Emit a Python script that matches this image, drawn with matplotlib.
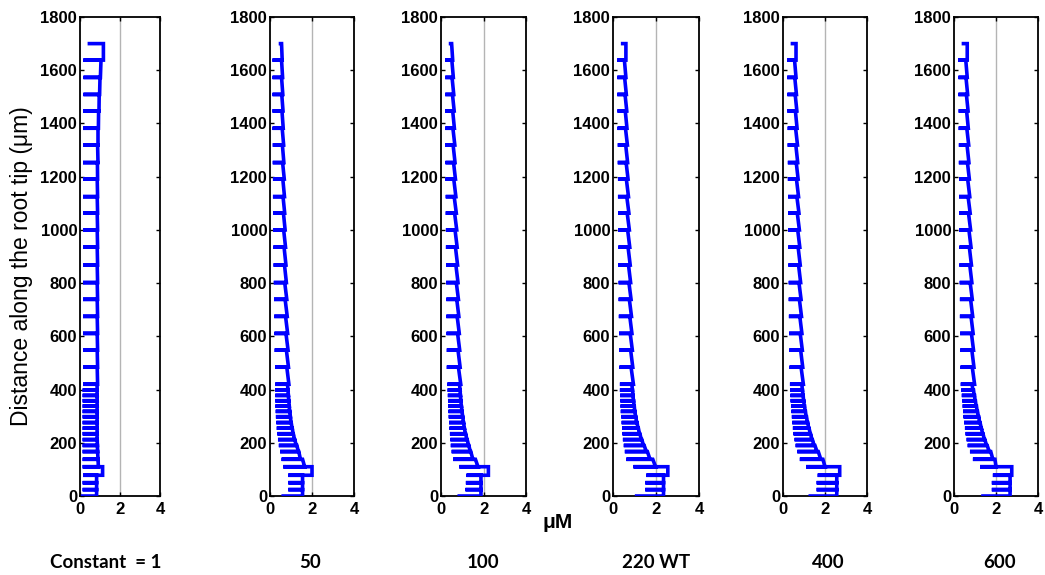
import numpy as np
import matplotlib
matplotlib.use("Agg")
import matplotlib.pyplot as plt
from matplotlib.font_manager import FontProperties

# cell wall positions along the root (um), bottom to top
walls = [0, 24, 50, 78, 110, 138, 167, 190, 212, 234, 255, 276, 298, 318, 338, 358, 378, 398, 420,
         484, 548, 611, 675, 739, 802, 868, 935, 1000, 1063, 1125, 1191, 1253, 1319, 1382, 1447, 1509,
         1573, 1638, 1700]

# each case: value at the walls, value at the bottom and top of each cell (uM)
c1_wall = [0.13, 0.13, 0.13, 0.15, 0.13, 0.13, 0.13, 0.13, 0.13, 0.13, 0.13, 0.13, 0.13, 0.13, 0.13, 0.13, 0.13, 0.13, 0.15,
           0.15, 0.15, 0.15, 0.15, 0.15, 0.15, 0.15, 0.15, 0.15, 0.15, 0.15, 0.15, 0.15, 0.15, 0.15, 0.15, 0.17, 0.17, 0.17, 0.47]
c1_bot = [0.83, 0.83, 0.83, 1.13, 0.92, 0.9, 0.88, 0.87, 0.86, 0.86, 0.86, 0.86, 0.86, 0.86, 0.86, 0.86, 0.86, 0.86,
          0.88, 0.88, 0.88, 0.88, 0.88, 0.88, 0.88, 0.88, 0.88, 0.88, 0.88, 0.88, 0.88, 0.9, 0.9, 0.92, 0.95, 0.98, 1.02, 1.17]
c1_top = [0.83, 0.83, 0.83, 1.13, 0.9, 0.88, 0.87, 0.86, 0.85, 0.85, 0.85, 0.85, 0.85, 0.85, 0.85, 0.85, 0.85, 0.85,
          0.86, 0.86, 0.86, 0.86, 0.86, 0.86, 0.86, 0.86, 0.86, 0.86, 0.86, 0.86, 0.87, 0.88, 0.9, 0.93, 0.96, 1.0, 1.05, 1.17]

c50_wall = [0.63, 0.87, 0.87, 0.87, 0.63, 0.55, 0.48, 0.42, 0.38, 0.35, 0.32, 0.3, 0.28, 0.27, 0.26, 0.25, 0.25, 0.25, 0.25,
            0.24, 0.22, 0.21, 0.2, 0.19, 0.18, 0.17, 0.16, 0.15, 0.15, 0.14, 0.14, 0.13, 0.13, 0.12, 0.12, 0.12, 0.12, 0.12, 0.5]
c50_bot = [1.55, 1.55, 1.55, 2.0, 1.65, 1.45, 1.35, 1.25, 1.17, 1.1, 1.05, 1.0, 0.97, 0.94, 0.92, 0.9, 0.88, 0.86,
           0.9, 0.88, 0.86, 0.84, 0.82, 0.8, 0.78, 0.76, 0.74, 0.72, 0.7, 0.69, 0.68, 0.66, 0.65, 0.63, 0.62, 0.61, 0.6, 0.58]
c50_top = [1.55, 1.55, 1.55, 2.0, 1.55, 1.37, 1.28, 1.18, 1.11, 1.06, 1.01, 0.97, 0.94, 0.91, 0.89, 0.87, 0.85, 0.83,
           0.8, 0.78, 0.76, 0.74, 0.72, 0.7, 0.69, 0.67, 0.65, 0.64, 0.62, 0.61, 0.6, 0.59, 0.58, 0.57, 0.56, 0.55, 0.55, 0.55]

c100_wall = [0.86, 1.15, 1.17, 1.2, 0.86, 0.57, 0.5, 0.46, 0.44, 0.42, 0.4, 0.38, 0.36, 0.35, 0.34, 0.33, 0.32, 0.31, 0.3,
             0.27, 0.27, 0.26, 0.25, 0.25, 0.24, 0.24, 0.23, 0.23, 0.22, 0.22, 0.21, 0.21, 0.2, 0.2, 0.2, 0.2, 0.2, 0.2, 0.45]
c100_bot = [1.88, 1.88, 1.88, 2.23, 1.74, 1.5, 1.38, 1.3, 1.22, 1.15, 1.1, 1.06, 1.02, 0.99, 0.96, 0.94, 0.92, 0.9,
            0.93, 0.9, 0.88, 0.86, 0.84, 0.82, 0.8, 0.78, 0.76, 0.74, 0.72, 0.7, 0.68, 0.66, 0.65, 0.63, 0.62, 0.6, 0.58, 0.55]
c100_top = [1.88, 1.88, 1.88, 2.23, 1.62, 1.4, 1.31, 1.23, 1.16, 1.1, 1.06, 1.02, 0.99, 0.96, 0.93, 0.91, 0.89, 0.87,
            0.82, 0.8, 0.78, 0.76, 0.74, 0.72, 0.7, 0.68, 0.66, 0.64, 0.62, 0.6, 0.59, 0.57, 0.56, 0.55, 0.54, 0.52, 0.51, 0.5]

c220_wall = [1.1, 1.5, 1.5, 1.55, 0.95, 0.62, 0.55, 0.5, 0.46, 0.44, 0.42, 0.4, 0.38, 0.36, 0.35, 0.34, 0.33, 0.32, 0.32,
             0.3, 0.29, 0.28, 0.27, 0.26, 0.26, 0.25, 0.25, 0.24, 0.24, 0.23, 0.23, 0.22, 0.22, 0.21, 0.21, 0.2, 0.2, 0.2, 0.45]
c220_bot = [2.35, 2.35, 2.35, 2.55, 1.98, 1.72, 1.55, 1.42, 1.32, 1.23, 1.16, 1.1, 1.05, 1.01, 0.98, 0.95, 0.93, 0.9,
            0.95, 0.92, 0.9, 0.88, 0.86, 0.84, 0.82, 0.8, 0.78, 0.76, 0.74, 0.72, 0.7, 0.68, 0.67, 0.65, 0.64, 0.62, 0.6, 0.6]
c220_top = [2.35, 2.35, 2.35, 2.55, 1.85, 1.6, 1.45, 1.34, 1.25, 1.18, 1.12, 1.06, 1.02, 0.99, 0.96, 0.93, 0.91, 0.88,
            0.84, 0.82, 0.8, 0.78, 0.76, 0.74, 0.72, 0.7, 0.68, 0.66, 0.64, 0.62, 0.61, 0.59, 0.58, 0.57, 0.56, 0.54, 0.53, 0.6]

c400_wall = [1.3, 1.6, 1.6, 1.65, 1.1, 0.8, 0.68, 0.6, 0.55, 0.5, 0.47, 0.44, 0.42, 0.4, 0.38, 0.36, 0.35, 0.34, 0.33,
             0.31, 0.3, 0.29, 0.28, 0.27, 0.27, 0.26, 0.25, 0.25, 0.24, 0.24, 0.23, 0.23, 0.22, 0.22, 0.21, 0.21, 0.2, 0.2, 0.45]
c400_bot = [2.56, 2.56, 2.56, 2.7, 2.0, 1.8, 1.62, 1.48, 1.38, 1.3, 1.22, 1.16, 1.1, 1.05, 1.01, 0.98, 0.95, 0.92,
            0.97, 0.94, 0.92, 0.9, 0.88, 0.86, 0.84, 0.82, 0.8, 0.78, 0.76, 0.74, 0.72, 0.7, 0.69, 0.67, 0.66, 0.64, 0.62, 0.62]
c400_top = [2.56, 2.56, 2.56, 2.7, 1.9, 1.68, 1.52, 1.4, 1.31, 1.24, 1.18, 1.12, 1.07, 1.03, 0.99, 0.96, 0.93, 0.9,
            0.86, 0.84, 0.82, 0.8, 0.78, 0.76, 0.74, 0.72, 0.7, 0.68, 0.66, 0.64, 0.63, 0.61, 0.6, 0.59, 0.58, 0.56, 0.55, 0.62]

c600_wall = [1.38, 1.8, 1.8, 1.85, 1.24, 0.9, 0.76, 0.65, 0.6, 0.55, 0.52, 0.48, 0.45, 0.43, 0.41, 0.39, 0.37, 0.35, 0.32,
             0.31, 0.3, 0.29, 0.28, 0.28, 0.27, 0.26, 0.26, 0.25, 0.25, 0.24, 0.24, 0.23, 0.23, 0.22, 0.22, 0.21, 0.21, 0.2, 0.45]
c600_bot = [2.67, 2.67, 2.67, 2.75, 2.0, 1.85, 1.68, 1.55, 1.45, 1.37, 1.3, 1.22, 1.16, 1.1, 1.05, 1.0, 0.96, 0.9,
            0.98, 0.95, 0.93, 0.91, 0.89, 0.87, 0.85, 0.83, 0.81, 0.79, 0.77, 0.75, 0.73, 0.71, 0.7, 0.68, 0.67, 0.65, 0.63, 0.63]
c600_top = [2.67, 2.67, 2.67, 2.75, 1.95, 1.75, 1.58, 1.47, 1.38, 1.3, 1.24, 1.18, 1.12, 1.07, 1.02, 0.98, 0.93, 0.86,
            0.87, 0.85, 0.83, 0.81, 0.79, 0.77, 0.75, 0.73, 0.71, 0.69, 0.67, 0.65, 0.64, 0.62, 0.61, 0.6, 0.59, 0.57, 0.56, 0.63]

cases = ["Constant  = 1", "50", "100", "220 WT", "400", "600"]
profiles = [(c1_wall, c1_bot, c1_top), (c50_wall, c50_bot, c50_top), (c100_wall, c100_bot, c100_top),
            (c220_wall, c220_bot, c220_top), (c400_wall, c400_bot, c400_top), (c600_wall, c600_bot, c600_top)]

# axes boxes in pixels (left, right); all share the same vertical extent
px_left = [80, 270, 441, 613, 783, 954]
px_right = [160, 354, 526, 699, 867, 1038]
px_top, px_bottom = 17, 496
case_x = [106, 310, 483, 656, 828, 1000]
W, H = 1045, 575


def profile_line(wall, bot, top):
    # walk up the root: dip to the wall value at each wall, ramp through each cell
    assert len(wall) == len(walls) and len(bot) == len(top) == len(walls) - 1
    xs, ys = [wall[0]], [walls[0]]
    for i in range(len(bot)):
        xs += [bot[i], top[i], wall[i + 1]]
        ys += [walls[i], walls[i + 1], walls[i + 1]]
    return xs, ys


fig = plt.figure(figsize=(W / 100, H / 100), dpi=100)
tick_font = FontProperties(family="Liberation Sans", weight="bold", size=12)

for k, (wall, bot, top) in enumerate(profiles):
    ax = fig.add_axes([px_left[k] / W, (H - px_bottom) / H,
                       (px_right[k] - px_left[k]) / W, (px_bottom - px_top) / H])
    ax.axvline(2, color="#b4b4b4", lw=1.0, zorder=1)
    xs, ys = profile_line(wall, bot, top)
    ax.plot(xs, ys, color="#0000ff", lw=2.6, solid_joinstyle="miter", zorder=3)
    ax.set_xlim(0, 4)
    ax.set_ylim(0, 1800)
    ax.set_xticks([0, 2, 4])
    ax.set_yticks(np.arange(0, 1801, 200))
    ax.tick_params(axis="x", pad=4)
    ax.tick_params(axis="y", pad=2)
    ax.tick_params(direction="in", top=True, right=True, length=3, width=1)
    for lab in ax.get_xticklabels() + ax.get_yticklabels():
        lab.set_fontproperties(tick_font)
    for s in ax.spines.values():
        s.set_linewidth(1.3)
    fig.text(case_x[k] / W, 1 - 562 / H, cases[k], ha="center", va="center",
             family="Lato", weight="bold", fontsize=13.5)

fig.text(22 / W, 1 - 266 / H, "Distance along the root tip (\u03bcm)", rotation=90,
         ha="center", va="center", family="Liberation Sans", fontsize=16.5)
fig.text(558 / W, 1 - 522 / H, "\u03bcM", ha="center", va="center",
         family="Liberation Sans", weight="bold", fontsize=15)

fig.savefig("out.png", dpi=100)
